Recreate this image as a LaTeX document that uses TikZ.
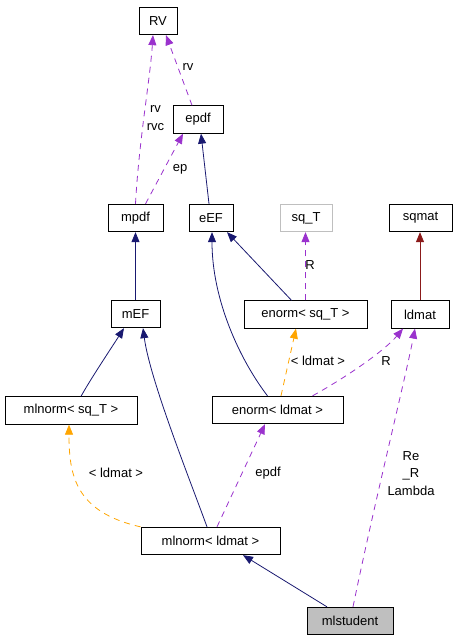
\documentclass[tikz,border=0pt]{standalone}
\usepackage{fontspec}
\setmainfont{Liberation Sans}
\usetikzlibrary{arrows.meta}

\definecolor{inhblue}{HTML}{191970}
\definecolor{usepurple}{HTML}{9A32CD}
\definecolor{tplorange}{HTML}{FFA500}
\definecolor{matred}{HTML}{8B1A1A}
\definecolor{boxgray}{HTML}{BFBFBF}

\tikzset{
  cls/.style={draw, rectangle, line width=0.8pt, inner sep=0pt, minimum height=27.5pt,
    font=\fontsize{13}{17}\selectfont},
  lbl/.style={inner sep=0pt, align=center, font=\fontsize{13}{17.5}\selectfont},
  tip/.style={-{Triangle[length=10pt,width=8pt]}},
  inh/.style={tip, inhblue, line width=0.8pt},
  usage/.style={tip, usepurple, dash pattern=on 6pt off 5pt, line width=0.8pt},
  tmpl/.style={tip, tplorange, dash pattern=on 6pt off 5pt, line width=0.8pt},
}

\begin{document}
\begin{tikzpicture}[x=1pt, y=-1pt]
    \useasboundingbox (0,0) rectangle (456,640);

    % Draw classes
    \node[cls, minimum width=38pt] (RV) at (158,21) {RV};
    \node[cls, minimum width=50pt] (epdf) at (198,119.5) {epdf};
    \node[cls, minimum width=55pt] (mpdf) at (135.5,218) {mpdf};
    \node[cls, minimum width=44pt] (eEF) at (211,218) {eEF};
    \node[cls, draw=boxgray, minimum width=52pt] (sqT) at (306,218) {sq\_T};
    \node[cls, minimum width=63pt] (sqmat) at (420.5,218) {sqmat};
    \node[cls, minimum width=49pt] (mEF) at (135.5,314) {mEF};
    \node[cls, minimum width=123pt] (enormsq) at (305.5,314.5) {enorm\textless{} sq\_T \textgreater};
    \node[cls, minimum width=58pt] (ldmat) at (420,314.5) {ldmat};
    \node[cls, minimum width=132pt] (mlnormsq) at (71,410.5) {mlnorm\textless{} sq\_T \textgreater};
    \node[cls, minimum width=131pt] (enormld) at (277.5,410) {enorm\textless{} ldmat \textgreater};
    \node[cls, minimum width=139pt] (mlnormld) at (210.5,541) {mlnorm\textless{} ldmat \textgreater};
    \node[cls, fill=boxgray, minimum width=86pt] (mlstudent) at (350,621) {mlstudent};

    % Draw inheritance
    \draw[inh] (mEF) -- (mpdf);
    \draw[inh] ([xshift=-2pt]eEF.north) -- ([xshift=3pt]epdf.south);
    \draw[inh] ([xshift=-14pt]enormsq.north) -- ([xshift=16pt]eEF.south);
    \draw[inh] ([xshift=-10pt]enormld.north) .. controls (240,360) and (212,300) .. ([xshift=1pt]eEF.south);
    \draw[inh] ([xshift=10pt]mlnormsq.north) .. controls (90,380) and (110,350) .. ([xshift=-11.5pt]mEF.south);
    \draw[inh] ([xshift=-3.5pt]mlnormld.north) .. controls (190,480) and (150,380) .. ([xshift=7.5pt]mEF.south);
    \draw[inh] ([xshift=-23pt]mlstudent.north) -- ([xshift=32.5pt]mlnormld.south);
    \draw[inh, matred] (ldmat.north) -- (ldmat.north |- sqmat.south);

    % Draw usage
    \draw[usage] (mpdf.north) .. controls (139,140) and (150,80) .. ([xshift=-5pt]RV.south);
    \draw[usage] ([xshift=-6pt]epdf.north) -- ([xshift=8pt]RV.south);
    \draw[usage] ([xshift=10pt]mpdf.north) -- ([xshift=-15pt]epdf.south);
    \draw[usage] (enormsq.north) -- (enormsq.north |- sqT.south);
    \draw[usage] ([xshift=35pt]enormld.north) .. controls (350,375) and (385,350) .. ([xshift=-17pt]ldmat.south);
    \draw[usage] ([xshift=3pt]mlstudent.north) .. controls (375,500) and (405,380) .. ([xshift=-5pt]ldmat.south);
    \draw[usage] ([xshift=6.5pt]mlnormld.north) -- ([xshift=-12.5pt]enormld.south);

    % Draw template instances
    \draw[tmpl] ([xshift=3.5pt]enormld.north) -- ([xshift=-9.5pt]enormsq.south);
    \draw[tmpl] (mlnormld.north west) .. controls (75,512) and (69,475) .. ([xshift=-2pt]mlnormsq.south);

    % Label members
    \node[lbl] (lrvc) at (155.5,118) {rv\\rvc};
    \node[lbl] (lrv) at (188,67) {rv};
    \node[lbl] (lep) at (180,169) {ep};
    \node[lbl] (lRsq) at (310,265) {R};
    \node[lbl] (ltplone) at (318,361) {\textless{} ldmat \textgreater};
    \node[lbl] (lRld) at (386,361) {R};
    \node[lbl] (lRe) at (411,473.5) {Re\\\_R\\Lambda};
    \node[lbl] (lepdf) at (268,473) {epdf};
    \node[lbl] (ltpltwo) at (116,473) {\textless{} ldmat \textgreater};
\end{tikzpicture}
\end{document}
